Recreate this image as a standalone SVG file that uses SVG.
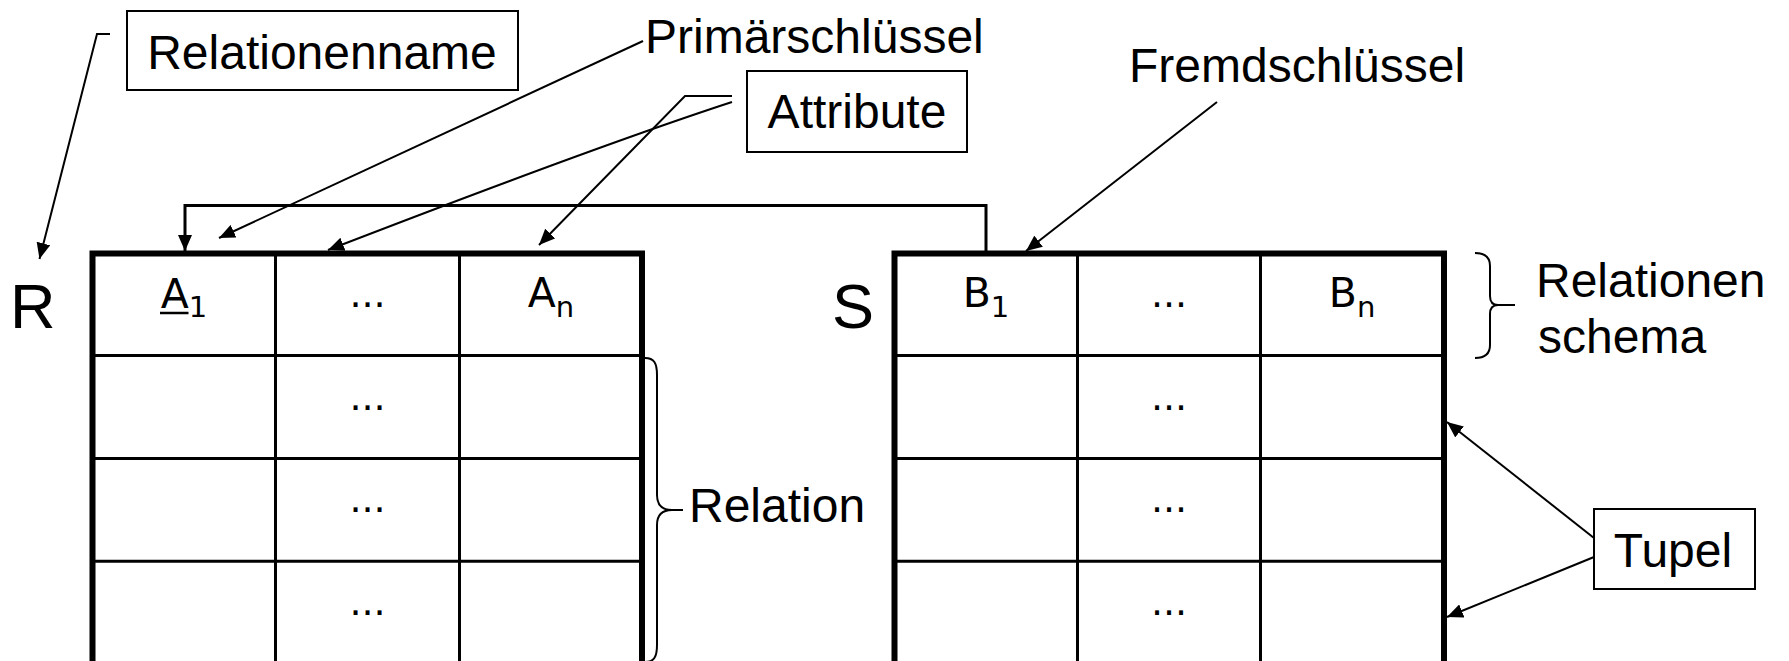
<svg xmlns="http://www.w3.org/2000/svg" width="1789" height="661" viewBox="0 0 1789 661">
<style>
.lbl{font-family:"Liberation Sans",Arial,sans-serif;font-size:48px;fill:#000}
.big{font-family:"Liberation Sans",Arial,sans-serif;font-size:63px;fill:#000}
.cell{font-family:"DejaVu Sans",sans-serif;font-size:41px;fill:#000;text-anchor:middle}
.dots{font-family:"DejaVu Sans",sans-serif;font-size:38px;fill:#000;text-anchor:middle}
.box{fill:#fff;stroke:#000;stroke-width:2}
.outer{fill:none;stroke:#000;stroke-width:6}
.inner{stroke:#000;stroke-width:3;fill:none}
.conn{fill:none;stroke:#000;stroke-width:2}
.brace{fill:none;stroke:#000;stroke-width:2}
</style>
<defs>
<marker id="arr" viewBox="0 0 16 14" refX="16" refY="7" markerWidth="16" markerHeight="14" markerUnits="userSpaceOnUse" orient="auto">
<path d="M0,0 L16,7 L0,14 z" fill="#000"/>
</marker>
</defs>
<rect width="1789" height="661" fill="#fff"/>

<g id="table-R">
<line class="inner" x1="92.5" y1="355.5" x2="644" y2="355.5"/>
<line class="inner" x1="92.5" y1="458.5" x2="644" y2="458.5"/>
<line class="inner" x1="92.5" y1="561.3" x2="644" y2="561.3"/>
<line class="inner" x1="275.5" y1="253.5" x2="275.5" y2="665"/>
<line class="inner" x1="459.5" y1="253.5" x2="459.5" y2="665"/>
<rect class="outer" x="92.5" y="253.5" width="549.5" height="410.5"/>
<text class="big" x="10" y="328">R</text>
<text class="cell" x="184" y="308">A<tspan font-size="29" dy="9">1</tspan></text>
<line x1="160" y1="313" x2="188.5" y2="313" stroke="#000" stroke-width="2.5"/>
<text class="dots" x="367.5" y="307">...</text>
<text class="cell" x="551" y="307">A<tspan font-size="29" dy="10">n</tspan></text>
<text class="dots" x="367.5" y="410">...</text>
<text class="dots" x="367.5" y="512">...</text>
<text class="dots" x="367.5" y="615">...</text>
</g>

<g id="table-S">
<line class="inner" x1="894.5" y1="355.5" x2="1444" y2="355.5"/>
<line class="inner" x1="894.5" y1="458.5" x2="1444" y2="458.5"/>
<line class="inner" x1="894.5" y1="561.3" x2="1444" y2="561.3"/>
<line class="inner" x1="1077.5" y1="253.5" x2="1077.5" y2="665"/>
<line class="inner" x1="1260.5" y1="253.5" x2="1260.5" y2="665"/>
<rect class="outer" x="894.5" y="253.5" width="549.5" height="410.5"/>
<text class="big" x="832" y="328">S</text>
<text class="cell" x="986" y="307">B<tspan font-size="29" dy="10">1</tspan></text>
<text class="dots" x="1169" y="307">...</text>
<text class="cell" x="1352" y="307">B<tspan font-size="29" dy="10">n</tspan></text>
<text class="dots" x="1169" y="410">...</text>
<text class="dots" x="1169" y="512">...</text>
<text class="dots" x="1169" y="615">...</text>
</g>

<g id="label-relationenname">
<rect class="box" x="127" y="11" width="391" height="79"/>
<text class="lbl" x="322" y="69" text-anchor="middle">Relationenname</text>
</g>
<g id="label-primaerschluessel">
<text class="lbl" x="645" y="53">Primärschlüssel</text>
</g>
<g id="label-attribute">
<rect class="box" x="747" y="71" width="220" height="81"/>
<text class="lbl" x="857" y="128" text-anchor="middle">Attribute</text>
</g>
<g id="label-fremdschluessel">
<text class="lbl" x="1129" y="82">Fremdschlüssel</text>
</g>
<g id="label-relationenschema">
<text class="lbl" x="1536" y="297">Relationen</text>
<text class="lbl" x="1538" y="353">schema</text>
</g>
<g id="label-relation">
<text class="lbl" x="689" y="522">Relation</text>
</g>
<g id="label-tupel">
<rect class="box" x="1594" y="509" width="161" height="80"/>
<text class="lbl" x="1673" y="567" text-anchor="middle">Tupel</text>
</g>

<g id="connectors">
<path class="conn" d="M110,34 L97,34 L39.5,259" marker-end="url(#arr)"/>
<path class="conn" d="M643,41 L219,238" marker-end="url(#arr)"/>
<path class="conn" d="M732,96 L685,96 L539,245" marker-end="url(#arr)"/>
<path class="conn" d="M732,102 Q600,145 328,250" marker-end="url(#arr)"/>
<path class="conn" d="M1217,102 L1026,251" marker-end="url(#arr)"/>
<path class="conn" style="stroke-width:3" d="M986,251 L986,205.5 L185,205.5 L185,251" marker-end="url(#arr)"/>
<path class="conn" d="M1594,538 L1447,422" marker-end="url(#arr)"/>
<path class="conn" d="M1594,557 L1447,617" marker-end="url(#arr)"/>
<path class="brace" d="M645,358 C654,358 657,363 657,375 L657,495 C657,505 662,510 672,510 L683,510 M672,510 C662,510 657,515 657,525 L657,645 C657,657 654,662 645,662"/>
<path class="brace" d="M1475,253 C1485,253 1490,257 1490,266 L1490,296 C1490,302 1493,305 1498,305 L1515,305 M1498,305 C1493,305 1490,308 1490,314 L1490,345 C1490,354 1485,358 1475,358"/>
</g>
</svg>
